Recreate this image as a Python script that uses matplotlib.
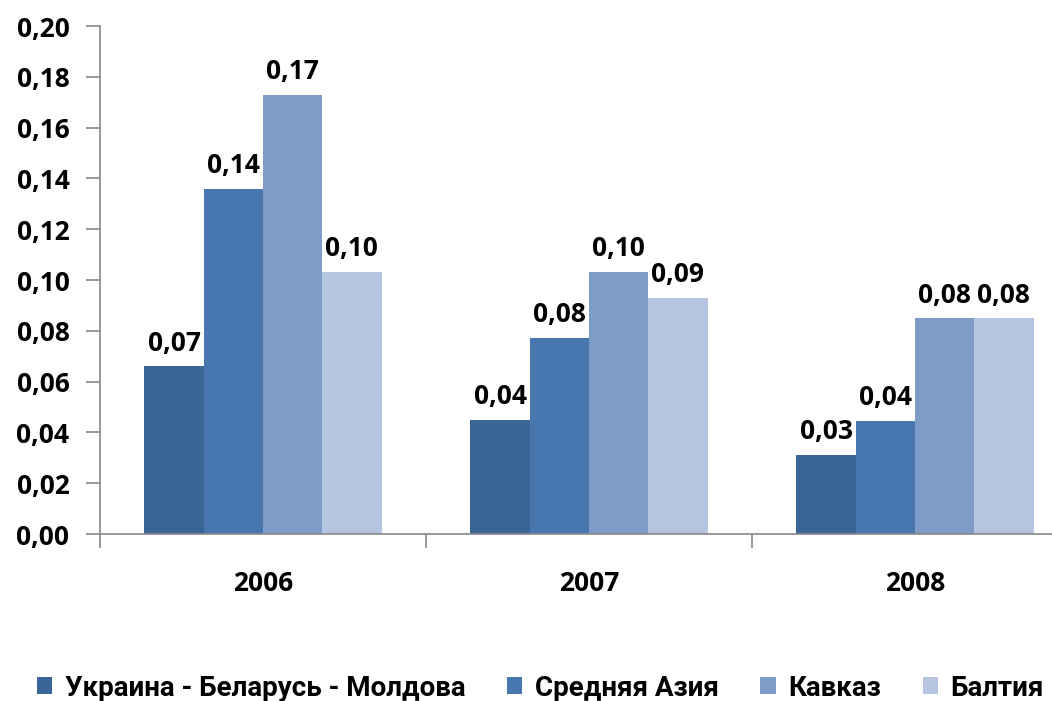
import matplotlib
matplotlib.use("Agg")
import matplotlib.pyplot as plt
from matplotlib.ticker import FixedLocator
from matplotlib import font_manager as fm
import numpy as np

years = ["2006", "2007", "2008"]
series = ["Украина - Беларусь - Молдова", "Средняя Азия", "Кавказ", "Балтия"]
ukr = [0.066, 0.0449, 0.0311]
asia = [0.1358, 0.0772, 0.0445]
kavkaz = [0.1728, 0.1031, 0.0849]
balt = [0.1031, 0.0929, 0.0849]
labels_ukr = ["0,07", "0,04", "0,03"]
labels_asia = ["0,14", "0,08", "0,04"]
labels_kavkaz = ["0,17", "0,10", "0,08"]
labels_balt = ["0,10", "0,09", "0,08"]
yticks = [0.00, 0.02, 0.04, 0.06, 0.08, 0.10, 0.12, 0.14, 0.16, 0.18, 0.20]
ytick_labels = ["0,00", "0,02", "0,04", "0,06", "0,08", "0,10", "0,12", "0,14", "0,16", "0,18", "0,20"]

colors = ["#3C6597", "#4877B0", "#7F9CC8", "#B5C4DF"]
values = [ukr, asia, kavkaz, balt]
labels = [labels_ukr, labels_asia, labels_kavkaz, labels_balt]

plt.rcParams['font.family'] = ['Open Sans', 'DejaVu Sans']
FS = 19
fig = plt.figure(figsize=(10.52, 7.01), dpi=100)
W, H = 1052, 701
ax = fig.add_axes([100 / W, 1 - 534 / H, 978 / W, (534 - 26) / H])

x = np.arange(len(years)) + 0.5
bw = 0.1818
for i, (vals, labs, c, name) in enumerate(zip(values, labels, colors, series)):
    pos = x + (i - 1.5) * bw
    bars = ax.bar(pos, vals, width=bw, color=c, label=name, zorder=2)
    for b, lab in zip(bars, labs):
        ax.annotate(lab, (b.get_x() + b.get_width() / 2, b.get_height()),
                    xytext=(0, 7), textcoords="offset points",
                    ha="center", va="bottom", fontsize=FS, fontweight="bold")

ax.set_xlim(0, 3)
ax.set_ylim(0, 0.20)
ax.set_yticks(yticks)
ax.set_yticklabels(ytick_labels, fontsize=FS, fontweight="bold")
ax.xaxis.set_major_locator(FixedLocator([0, 1, 2, 3]))
ax.set_xticklabels([])
ax.xaxis.set_minor_locator(FixedLocator(list(x)))
ax.set_xticklabels(years, minor=True, fontsize=FS, fontweight="bold")
ax.tick_params(axis="x", which="minor", length=0, pad=26)
ax.tick_params(axis="x", which="major", length=10, color="#888888", width=1.2)
ax.tick_params(axis="y", length=10, color="#888888", width=1.2, pad=12)
for s in ["top", "right"]:
    ax.spines[s].set_visible(False)
for s in ["left", "bottom"]:
    ax.spines[s].set_color("#888888")
    ax.spines[s].set_linewidth(1.2)

handles, labs = ax.get_legend_handles_labels()
leg = fig.legend(handles, labs, loc="center left", bbox_to_anchor=(12 / W, 1 - 688 / H),
                 ncol=4, frameon=False, handlelength=0.55, handleheight=0.55,
                 handletextpad=0.45, columnspacing=1.5,
                 prop=fm.FontProperties(family=['Roboto', 'DejaVu Sans'], size=20, weight="bold"))

fig.savefig("out.png", dpi=100)
